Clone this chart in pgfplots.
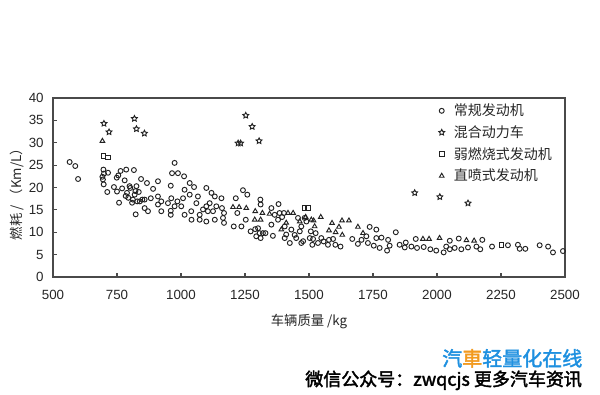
\documentclass[border=0pt]{standalone}
\usepackage{fontspec}
\setmainfont{Liberation Sans}
\newfontfamily\cjk{Noto Sans CJK SC}
\newfontfamily\cjkb{Noto Sans CJK SC}[FakeBold=2]
\usepackage{pgfplots}
\pgfplotsset{compat=1.18}
\usetikzlibrary{plotmarks}
\definecolor{axgray}{HTML}{4A4A4A}
\definecolor{mk}{HTML}{222222}
\definecolor{wmblue}{HTML}{1E90E0}
\definecolor{wmorange}{HTML}{F29A1F}
\pgfdeclareplotmark{ostar}{%
  \pgfpathmoveto{\pgfpointpolar{90}{\pgfplotmarksize}}%
  \pgfpathlineto{\pgfpointpolar{126}{0.5\pgfplotmarksize}}%
  \pgfpathlineto{\pgfpointpolar{162}{\pgfplotmarksize}}%
  \pgfpathlineto{\pgfpointpolar{198}{0.5\pgfplotmarksize}}%
  \pgfpathlineto{\pgfpointpolar{234}{\pgfplotmarksize}}%
  \pgfpathlineto{\pgfpointpolar{270}{0.5\pgfplotmarksize}}%
  \pgfpathlineto{\pgfpointpolar{306}{\pgfplotmarksize}}%
  \pgfpathlineto{\pgfpointpolar{342}{0.5\pgfplotmarksize}}%
  \pgfpathlineto{\pgfpointpolar{18}{\pgfplotmarksize}}%
  \pgfpathlineto{\pgfpointpolar{54}{0.5\pgfplotmarksize}}%
  \pgfpathclose
  \pgfusepathqstroke
}
\begin{document}
\begin{tikzpicture}
\useasboundingbox[fill=white] (-39.75pt,-87.75pt) rectangle (410.25pt,207.75pt);
\begin{axis}[
  scale only axis,
  width=384pt, height=134.25pt,
  xmin=500, xmax=2500, ymin=0, ymax=40,
  xtick={500,750,...,2500}, ytick={0,5,...,40},
  tick pos=left, tick align=inside, major tick length=3pt,
  axis line style={axgray, line width=0.9pt},
  every tick/.style={axgray, line width=0.8pt},
  /pgf/number format/assume math mode=true,
  /pgf/number format/1000 sep={},
  ticklabel style={font=\fontsize{10}{12}\selectfont, text=black!85},
  xticklabel style={yshift=-6.5pt},
  yticklabel style={xshift=-3.5pt},
  xlabel={\cjk 车辆质量 /kg},
  xlabel style={at={(axis description cs:0.5,0)}, anchor=north, inner sep=0pt, yshift=-27.5pt, font=\fontsize{10}{12}\selectfont, text=black!85},
  ylabel={\cjk 燃耗 / （Km/L）},
  ylabel style={at={(axis description cs:-0.0705,0.48)}, anchor=center, rotate=0, inner sep=0pt, font=\fontsize{10}{12}\selectfont, text=black!85},
  clip=false,
  legend cell align=left,
  legend image code/.code={\draw[#1] plot coordinates {(0pt,0pt)};},
  legend style={at={(axis description cs:0.753,0.976)}, anchor=north west, draw=none, fill=none, inner sep=0pt,
    font=\cjk\fontsize{10.5}{12}\selectfont, text=black!85, row sep=3.9pt,
    nodes={inner sep=1pt},
    /tikz/every odd column/.append style={column sep=6pt}},
]
\addplot[only marks, mark=o, mark size=1.85pt, mk, line width=0.7pt] coordinates {
(565,25.7) (587,24.8) (598,21.9) (697,24.0) (693,22.4) (699,23.1) (695,21.8) (698,20.7)
(715,23.3) (712,19.0) (738,20.1) (749,22.2) (755,22.7) (764,23.7) (758,16.6) (750,19.1)
(770,19.8) (786,24.0) (780,21.6) (784,18.1) (789,18.8) (794,17.7) (799,20.3) (802,19.9)
(809,16.6) (812,17.3) (816,23.9) (822,19.2) (823,14.0) (829,16.9) (835,19.0) (844,21.9)
(849,17.3) (819,18.4) (826,20.3) (839,16.9) (858,17.3) (858,15.4) (867,21.0) (871,14.7)
(882,17.6) (891,19.7) (910,21.4) (910,18.0) (910,16.2) (923,16.9) (923,14.7) (949,16.5)
(960,20.4) (960,14.8) (960,13.9) (962,17.6) (965,23.2) (975,25.5) (975,15.8) (986,16.9)
(988,23.2) (1001,15.8) (1008,17.6) (1012,22.5) (1014,19.5) (1014,13.9) (1034,21.0) (1034,18.4)
(1040,14.7) (1051,20.1) (1060,16.5) (1066,18.0) (1073,13.9) (1073,12.8) (1099,19.9) (1099,15.8)
(1099,12.4) (1105,14.7) (1112,16.5) (1119,18.8) (1125,14.7) (1132,18.0) (1132,12.8) (1138,15.8)
(1158,17.6) (1160,15.4) (1164,13.2) (1168,14.3) (1168,12.1) (1041,12.8) (1086,15.1)
(1206,11.3) (1214,17.6) (1220,14.3) (1236,11.3) (1242,19.4) (1253,12.8) (1259,18.4) (1272,10.2)
(1290,10.7) (1294,9.1) (1301,10.9) (1307,9.8) (1310,17.3) (1311,16.2) (1311,8.7) (1320,9.8)
(1330,9.8) (1353,15.4) (1353,11.7) (1359,9.2) (1366,13.9) (1379,12.8) (1381,16.3) (1385,14.3)
(1395,13.4) (1402,14.3) (1405,11.3) (1405,8.7) (1411,9.5) (1425,7.6) (1431,10.6) (1444,9.4)
(1450,8.7) (1457,13.2) (1464,10.2) (1470,11.3) (1477,8.0) (1483,13.2) (1490,12.4) (1503,8.7)
(1507,10.2) (1470,7.6) (1526,9.8) (1516,8.5) (1548,8.7) (1557,7.95) (1513,7.2) (1535,7.6)
(1578,8.3) (1594,8.5) (1603,7.2) (1623,6.8) (1574,7.2) (1669,8.5) (1691,7.4) (1705,8.3)
(1724,9.1) (1737,11.2) (1763,10.6) (1730,7.6) (1753,7.0) (1763,8.7) (1783,8.8) (1776,6.5)
(1805,5.9) (1809,8.3) (1815,7.0) (1839,10.0) (1854,7.2) (1878,7.7) (1874,6.6) (1900,6.8)
(1917,8.5) (1922,6.5) (1948,6.7) (1974,6.2) (1997,5.9) (2026,5.5) (2036,6.8)
(2050,6.2) (2050,8.1) (2069,6.5) (2085,8.6) (2095,6.2) (2121,6.6) (2154,6.8) (2169,6.2)
(2177,8.3) (2215,6.8) (2277,7.1) (2316,7.2) (2323,6.3) (2345,6.3) (2401,7.1) (2434,6.8)
(2453,5.5) (2492,5.8)
};
\addlegendentry{常规发动机}
\addplot[only marks, mark=ostar, mark size=2.3pt, mk, line width=0.7pt] coordinates {
(699,34.3) (719,32.4) (818,35.4) (826,33.1) (857,32.1) (1223,29.9) (1233,29.9)
(1253,36.1) (1278,33.6) (1305,30.4) (1913,18.8) (2011,17.9) (2121,16.5)
};
\addlegendentry{混合动力车}
\addplot[only marks, mark=square, mark size=1.7pt, mk, line width=0.7pt] coordinates {
(697,27.1) (714,26.7) (1483,15.4) (1496,15.4) (2251,7.1)
};
\addlegendentry{弱燃烧式发动机}
\addplot[only marks, mark=triangle, mark size=2pt, mk, line width=0.7pt] coordinates {
(693,30.4) (1203,15.6) (1227,15.6) (1255,15.4) (1290,14.7) (1318,14.3) (1288,12.8) (1311,12.8)
(1346,14.1) (1392,10.6) (1411,12.1) (1418,14.3) (1438,14.3) (1464,12.4) (1487,13.4) (1509,12.8)
(1518,12.6) (1522,11.3) (1546,13.4) (1578,10.4) (1590,12.05) (1604,10.0) (1617,11.2) (1629,12.6)
(1630,9.4) (1656,12.6) (1691,11.2) (1711,9.8) (1945,8.5) (1969,8.5) (2010,8.7) (2115,8.2) (2145,8.1)
};
\addlegendentry{直喷式发动机}
\end{axis}
\node[anchor=west, inner sep=0pt, font=\cjkb\fontsize{13.5}{15}\selectfont] at (189pt,-77.5pt) {微信公众号：zwqcjs 更多汽车资讯};
\node[anchor=west, inner sep=0pt, font=\cjkb\fontsize{15}{17}\selectfont, text=wmblue] at (291.75pt,-61pt) {汽\textcolor{wmorange}{車}轻量化在线};
\end{tikzpicture}
\end{document}
